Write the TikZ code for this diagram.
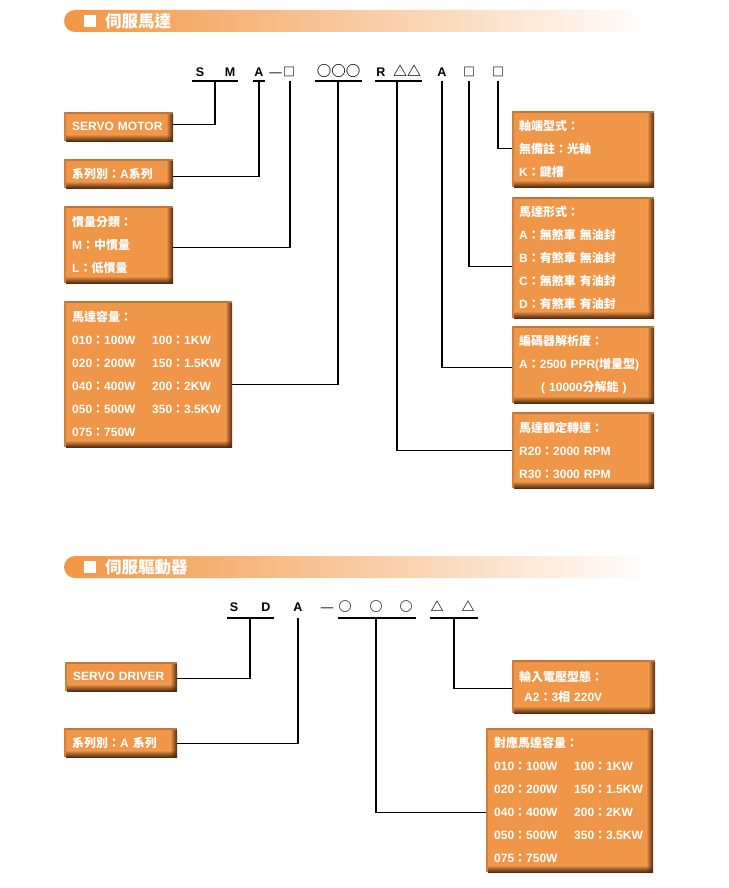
\documentclass[tikz,border=0pt]{standalone}
\usepackage{fontspec}
\setmainfont{Liberation Sans}
\newfontfamily\cjk{Noto Sans CJK TC}
\usetikzlibrary{shadings}
\definecolor{boxor}{RGB}{240,150,72}
\definecolor{boxdk}{RGB}{80,42,14}
\definecolor{hdr}{RGB}{242,150,68}
\newcommand\zh[1]{{\cjk #1}}
\newcommand\pair[2]{\makebox[80pt][l]{#1}#2}
\tikzset{
  ln/.style={line width=1.2pt, black},
  code/.style={anchor=base, inner sep=0pt, font=\fontsize{12.5}{15}\selectfont\bfseries},
  sym/.style={anchor=base, inner sep=0pt, font=\cjk\bfseries\fontsize{#1}{15}\selectfont},
  obox/.style 2 args={anchor=north west, fill=boxor, text=white, align=left,
    inner xsep=8pt, inner ysep=0pt, text width=#1pt, minimum height=#2pt,
    font=\fontsize{12}{23}\selectfont\bfseries,
    path picture={
      \fill[boxdk!30!boxor] (path picture bounding box.north west) rectangle ([yshift=-2pt]path picture bounding box.north east);
      \fill[boxdk!20!boxor] (path picture bounding box.north west) rectangle ([xshift=2pt]path picture bounding box.south west);
      \shade[left color=boxor, right color=boxdk] ([shift={(-7pt,-2pt)}]path picture bounding box.north east) rectangle ([yshift=7pt]path picture bounding box.south east);
      \shade[top color=boxor, bottom color=boxdk] ([shift={(2pt,7pt)}]path picture bounding box.south west) rectangle ([xshift=-7pt]path picture bounding box.south east);
      \shade[upper left=boxor, upper right=boxdk, lower left=boxdk, lower right=boxdk] ([shift={(-7pt,7pt)}]path picture bounding box.south east) rectangle (path picture bounding box.south east);
    }},
  hdrtext/.style={anchor=west, inner sep=0pt, text=white, font=\cjk\bfseries\fontsize{16.5}{18}\selectfont},
  hdrsq/.style={fill=white, minimum size=12pt, inner sep=0pt},
}
\begin{document}
\begin{tikzpicture}[x=1pt, y=-1pt]
\useasboundingbox (0,0) rectangle (728,888);
\fill[white] (0,0) rectangle (728,888);

% ---------- header 1 ----------
\shade[left color=hdr, middle color=hdr!50!white, right color=white, rounded corners=11pt] (64,10) rectangle (652,32);
\node[hdrsq] (sq1) at (90,21.5) {};
\node[hdrtext] (h1) at (105,21.5) {伺服馬達};

% ---------- code line 1 ----------
\node[code] (cS) at (200,76.5) {S};
\node[code] (cM) at (230,76.5) {M};
\node[code] (cA) at (259,76.5) {A};
\node[code] (cDash) at (275.5,76.5) {\mdseries —};
\node[sym=12] (cB1) at (289,76.5) {□};
\node[sym=14.5] (cC) at (338.5,76.5) {○○○};
\node[code] (cR) at (381,76.5) {R};
\node[sym=14] (cT) at (407,76.5) {△△};
\node[code] (cA2) at (442,76.5) {A};
\node[sym=12] (cB2) at (469,76.5) {□};
\node[sym=12] (cB3) at (498,76.5) {□};

\draw[ln] (192,81) -- (238,81);
\draw[ln] (253,81) -- (265,81);
\draw[ln] (315,81) -- (362,81);
\draw[ln] (375,81) -- (422,81);

\coordinate (uSM) at (215,81);
\coordinate (uA) at (259,81);
\coordinate (uB1) at (290,81);
\coordinate (uC) at (338,81);
\coordinate (uRT) at (397,81);
\coordinate (uA2) at (442,81);
\coordinate (uB2) at (469,81);
\coordinate (uB3) at (498,81);

% ---------- left boxes 1 ----------
\node[obox={93}{29}] (servo) at (64,112) {SERVO MOTOR};
\node[obox={93}{29}] (series) at (64,159) {\zh{系列別：}A\zh{系列}};
\node[obox={93}{77}] (inertia) at (64,206) {\zh{慣量分類：}\\M\zh{：中慣量}\\L\zh{：低慣量}};
\node[obox={152}{146}] (cap) at (64,301) {\zh{馬達容量：}\\
  \pair{010\zh{：}100W}{100\zh{：}1KW}\\
  \pair{020\zh{：}200W}{150\zh{：}1.5KW}\\
  \pair{040\zh{：}400W}{200\zh{：}2KW}\\
  \pair{050\zh{：}500W}{350\zh{：}3.5KW}\\
  075\zh{：}750W};

% ---------- right boxes 1 ----------
\node[obox={128}{76}, inner xsep=7pt] (shaft) at (512,111) {\zh{軸端型式：}\\\zh{無備註：光軸}\\K\zh{：鍵槽}};
\node[obox={128}{121}, inner xsep=7pt] (mtype) at (512,197) {\zh{馬達形式：}\\A\zh{：無煞車 無油封}\\B\zh{：有煞車 無油封}\\C\zh{：無煞車 有油封}\\D\zh{：有煞車 有油封}};
\node[obox={128}{77}, inner xsep=7pt] (enc) at (512,326) {\zh{編碼器解析度：}\\A\zh{：}2500 PPR(\zh{增量型})\\\hspace*{22pt}( 10000\zh{分解能} )};
\node[obox={128}{76}, inner xsep=7pt] (speed) at (512,412) {\zh{馬達額定轉速：}\\R20\zh{：}2000 RPM\\R30\zh{：}3000 RPM};

% ---------- connectors 1 ----------
\draw[ln] (uSM) |- ([yshift=2.5pt]servo.east);
\draw[ln] (uA) |- ([yshift=-2.5pt]series.east);
\draw[ln] (uB1) |- ([yshift=-2.5pt]inertia.east);
\draw[ln] (uC) |- ([yshift=-10pt]cap.east);
\draw[ln] (uB3) |- ([yshift=1pt]shaft.west);
\draw[ln] (uB2) |- ([yshift=-8.5pt]mtype.west);
\draw[ln] (uA2) |- ([yshift=-2.5pt]enc.west);
\draw[ln] (uRT) |- (speed.west);

% ---------- header 2 ----------
\shade[left color=hdr, middle color=hdr!50!white, right color=white, rounded corners=11pt] (64,556) rectangle (652,578);
\node[hdrsq] (sq2) at (90,567) {};
\node[hdrtext] (h2) at (105,567) {伺服驅動器};

% ---------- code line 2 ----------
\node[code] (dS) at (234,611.5) {S};
\node[code] (dD) at (266,611.5) {D};
\node[code] (dA) at (298,611.5) {A};
\node[code] (dDash) at (327,611.5) {\mdseries —};
\node[sym=13] (dC1) at (345,611.5) {○};
\node[sym=13] (dC2) at (376,611.5) {○};
\node[sym=13] (dC3) at (406,611.5) {○};
\node[sym=13] (dT1) at (437,611.5) {△};
\node[sym=13] (dT2) at (468,611.5) {△};

\draw[ln] (227,618) -- (274,618);
\draw[ln] (338,618) -- (416,618);
\draw[ln] (430,618) -- (478,618);

\coordinate (vSD) at (250,618);
\coordinate (vA) at (298,618);
\coordinate (vC) at (376,618);
\coordinate (vT) at (454,618);

% ---------- boxes 2 ----------
\node[obox={96}{29}] (driver) at (65,662) {SERVO DRIVER};
\node[obox={97}{29}] (series2) at (64,728) {\zh{系列別：}A \zh{系列}};
\node[obox={129}{53}, inner xsep=7pt, font=\fontsize{12}{20}\selectfont\bfseries] (volt) at (512,660) {\zh{輸入電壓型態：}\\\hspace*{5pt}A2\zh{：}3\zh{相} 220V};
\node[obox={151}{144}] (dcap) at (486,728) {\zh{對應馬達容量：}\\
  \pair{010\zh{：}100W}{100\zh{：}1KW}\\
  \pair{020\zh{：}200W}{150\zh{：}1.5KW}\\
  \pair{040\zh{：}400W}{200\zh{：}2KW}\\
  \pair{050\zh{：}500W}{350\zh{：}3.5KW}\\
  075\zh{：}750W};

% ---------- connectors 2 ----------
\draw[ln] (vSD) |- ([yshift=-1.5pt]driver.east);
\draw[ln] (vA) |- ([yshift=-0.5pt]series2.east);
\draw[ln] (vT) |- ([yshift=-1.5pt]volt.west);
\draw[ln] (vC) |- ([yshift=-12pt]dcap.west);
\end{tikzpicture}
\end{document}
